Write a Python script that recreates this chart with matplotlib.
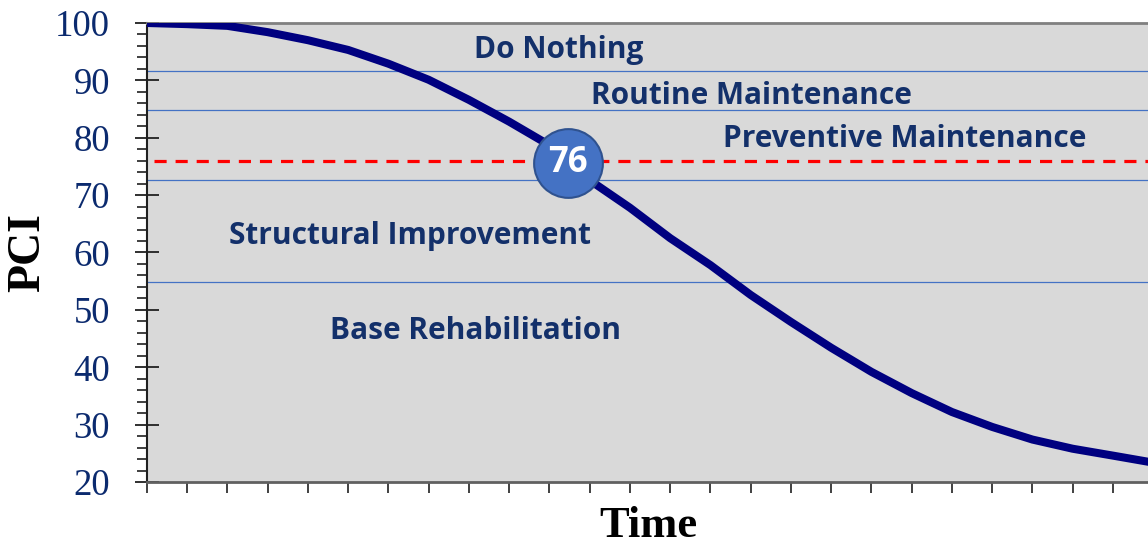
import matplotlib.pyplot as plt
import numpy as np
from matplotlib.ticker import MultipleLocator

# PCI deterioration curve
time = [0, 1, 2, 3, 4, 5, 6, 7, 8, 9, 10, 11, 12, 13, 14, 15, 16, 17, 18, 19, 20, 21, 22, 23, 24, 24.9]
pci = [100, 99.8, 99.5, 98.4, 97.0, 95.3, 92.9, 90.1, 86.6, 82.8, 78.7, 72.6, 67.8, 62.5,
       57.8, 52.6, 47.9, 43.4, 39.2, 35.5, 32.2, 29.6, 27.4, 25.8, 24.6, 23.5]

# treatment thresholds
thresholds = [91.7, 84.8, 72.6, 54.8]
trigger = 76
trigger_time = 10.45

zone_labels = ["Do Nothing", "Routine Maintenance", "Preventive Maintenance",
               "Structural Improvement", "Base Rehabilitation"]
zone_x = [10.23, 15.02, 18.83, 6.54, 8.16]
zone_y = [95.3, 87.3, 79.8, 62.9, 46.3]

navy = '#0B2A6E'

fig = plt.figure(figsize=(11.48, 5.46), dpi=100)
ax = fig.add_axes([0.128, 0.1172, 0.873, 0.8407])
ax.set_facecolor('#D9D9D9')

for y in thresholds:
    ax.axhline(y, color='#4472C4', lw=0.9, zorder=1)
ax.axhline(trigger, xmin=0.007, color='red', lw=2.3, dashes=(3.8, 2.8), zorder=2)

ax.plot(time, pci, color='#000080', lw=5.8, solid_capstyle='butt', zorder=3)

ax.scatter([trigger_time], [pci[10] - 3.1], s=2450, color='#4472C4', edgecolor='#2F528F',
           linewidth=1.5, zorder=5)
ax.text(trigger_time, pci[10] - 3.1, str(trigger), color='white', fontsize=25, fontweight='bold',
        family='Open Sans', ha='center', va='center', zorder=6)

for lab, x, y in zip(zone_labels, zone_x, zone_y):
    ax.text(x, y, lab, color='#13306A', fontsize=21.5, fontweight='bold', family='Open Sans',
            ha='center', va='center', zorder=4)

ax.set_xlim(0, 24.9)
ax.set_ylim(20, 100)
ax.yaxis.set_major_locator(MultipleLocator(10))
ax.yaxis.set_minor_locator(MultipleLocator(2))
ax.xaxis.set_major_locator(MultipleLocator(1))
ax.set_xticklabels([])
ax.tick_params(axis='y', which='major', direction='inout', length=17, width=1.3, color='#202020',
               labelsize=26.5, labelcolor=navy, pad=18)
ax.tick_params(axis='y', which='minor', direction='out', length=7.5, width=1.3, color='#303030')
ax.tick_params(axis='x', which='major', direction='out', length=8, width=1.4, color='#404040')
for lab in ax.get_yticklabels():
    lab.set_family('Liberation Serif')

ax.spines['left'].set_color('#202020')
ax.spines['left'].set_linewidth(1.5)
ax.spines['bottom'].set_color('#606060')
ax.spines['bottom'].set_linewidth(2)
ax.spines['top'].set_color('#808080')
ax.spines['top'].set_linewidth(2)
ax.spines['right'].set_visible(False)

ax.set_ylabel('PCI', family='Liberation Serif', fontsize=33, fontweight='bold', labelpad=4)
ax.set_xlabel('Time', family='Liberation Serif', fontsize=32, fontweight='bold', labelpad=6)

fig.savefig('out.png', dpi=100)
